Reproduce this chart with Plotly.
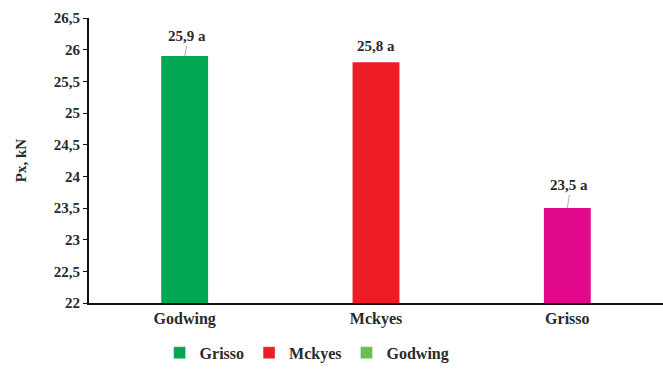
import plotly.graph_objects as go

categories = ["Godwing", "Mckyes", "Grisso"]
values = [25.9, 25.8, 23.5]
labels = ["25,9 a", "25,8 a", "23,5 a"]
bar_colors = ["#00A651", "#ED1C24", "#E2088C"]
legend_names = ["Grisso", "Mckyes", "Godwing"]
legend_colors = ["#00A651", "#ED1C24", "#6CC04A"]

FONT = "Liberation Serif"
TXT = "#2a2a2a"


def f(size):
    return dict(family=FONT, size=size, color=TXT, weight="bold")


fig = go.Figure()
fig.add_trace(go.Bar(x=categories, y=values, marker=dict(color=bar_colors, line=dict(width=0)),
                     width=0.245, showlegend=False))
for n, c in zip(legend_names, legend_colors):
    fig.add_trace(go.Bar(x=[None], y=[None], name=n, marker=dict(color=c), showlegend=True))

arrow_len = [-10, -14, -13]
show_arrow = [True, False, True]
for cat, v, t, a, s in zip(categories, values, labels, arrow_len, show_arrow):
    if s:
        fig.add_annotation(x=cat, y=v, text=t, showarrow=True, arrowhead=0,
                           arrowwidth=0.8, arrowcolor="#999999", ax=2, ay=a, yanchor="bottom",
                           font=f(15))
    else:
        fig.add_annotation(x=cat, y=v, text=t, showarrow=False, yanchor="bottom",
                           yshift=6, font=f(15))

fig.update_layout(
    width=663, height=369,
    margin=dict(l=89, r=0, t=18, b=66, autoexpand=False),
    plot_bgcolor="white", paper_bgcolor="white",
    separators=",.",
    barmode="overlay",
    font=f(14),
    legend=dict(orientation="h", x=0.38, xanchor="center", y=-0.115, yanchor="top",
                font=f(16), itemwidth=30, tracegroupgap=0),
)
fig.update_xaxes(showline=True, linecolor="#111111", linewidth=2, showgrid=False,
                 tickfont=f(16), ticks="")
fig.update_yaxes(range=[22, 26.5], dtick=0.5, showline=True, linecolor="#111111", linewidth=2,
                 showgrid=False, ticks="outside", ticklen=4, tickcolor="#111111",
                 tickfont=f(15),
                 title=dict(text="Px, kN", font=f(15), standoff=24),
                 zeroline=False)

fig.write_html("out.html")
